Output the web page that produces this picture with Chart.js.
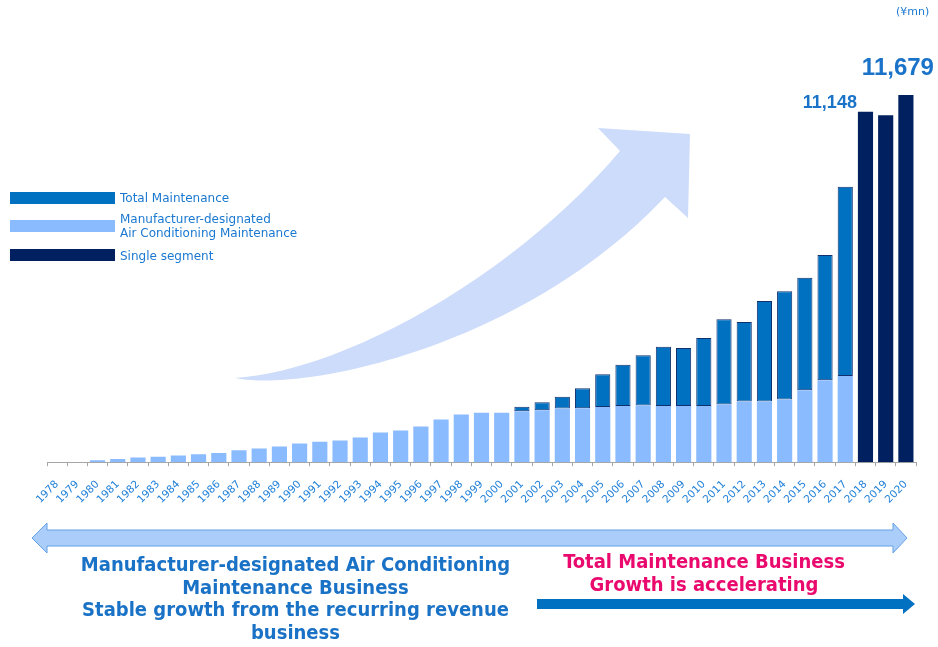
<!DOCTYPE html>
<html>
<head>
<meta charset="utf-8">
<script src="https://cdn.jsdelivr.net/npm/chart.js@4.4.0/dist/chart.umd.min.js"></script>
<style>
  html, body { margin: 0; padding: 0; background: #fff; }
  #wrap { position: relative; width: 938px; height: 647px; overflow: hidden; font-family: 'DejaVu Sans', sans-serif; }
  #deco, #chart { position: absolute; left: 0; top: 0; }
  .legend-box { position: absolute; left: 10px; width: 105px; height: 12px; }
  .legend-text { position: absolute; left: 120px; font-size: 12px; line-height: 14px; color: #1a78d0; white-space: nowrap; }
  .unit { position: absolute; left: 896px; top: 5px; font-size: 11px; line-height: 14px; color: #1a78d0; }
  .note { position: absolute; text-align: center; font-family: 'DejaVu Sans Condensed', 'DejaVu Sans', sans-serif; font-weight: bold; font-size: 20px; line-height: 22.5px; white-space: nowrap; }
</style>
</head>
<body>
<div id="wrap">
  <svg id="deco" width="938" height="647">
    <!-- big growth arrow behind the bars -->
    <path d="M235 378 C350 370 520 270 620 151 L598 128 L690 134 L688 218 L665 197 C520 350 300 392 235 378 Z" fill="#cddcfa"/>
    <!-- double-headed period arrow -->
    <polygon points="32,538 47,523 47,530 893,530 893,523 907,538 893,553 893,546 47,546 47,553" fill="#aacdfa" stroke="#64a0e6" stroke-width="1"/>
    <!-- acceleration arrow -->
    <polygon points="537,599 903,599 903,594 915,604 903,614 903,609 537,609" fill="#0070c0"/>
  </svg>
  <canvas id="chart" width="938" height="647"></canvas>

  <div class="unit">(¥mn)</div>

  <div class="legend-box" style="top:192px;background:#0070c0"></div>
  <div class="legend-text" style="top:191px">Total Maintenance</div>
  <div class="legend-box" style="top:220px;background:#8abbff"></div>
  <div class="legend-text" style="top:212px">Manufacturer-designated<br>Air Conditioning Maintenance</div>
  <div class="legend-box" style="top:249px;background:#002060"></div>
  <div class="legend-text" style="top:249px">Single segment</div>

  <div class="note" style="left:45px;width:501px;top:553px;color:#1a72c6">Manufacturer-designated Air Conditioning<br>Maintenance Business<br>Stable growth from the recurring revenue<br>business</div>
  <div class="note" style="left:544px;width:320px;top:550px;color:#ea0a6e">Total Maintenance Business<br>Growth is accelerating</div>
</div>

<script>
// ── DATA (¥mn) ────────────────────────────────────────────
const years = [
    '1978', '1979', '1980', '1981', '1982', '1983', '1984', '1985', '1986', '1987',
    '1988', '1989', '1990', '1991', '1992', '1993', '1994', '1995', '1996', '1997',
    '1998', '1999', '2000', '2001', '2002', '2003', '2004', '2005', '2006', '2007',
    '2008', '2009', '2010', '2011', '2012', '2013', '2014', '2015', '2016', '2017',
    '2018', '2019', '2020'
];

// Manufacturer-designated air conditioning maintenance (lower segment)
const acMaintenance = [
    0, 0, 64, 105, 150, 170, 213, 254, 296, 382,
    436, 500, 595, 649, 690, 785, 944, 1008, 1135, 1358,
    1517, 1571, 1571, 1620, 1654, 1705, 1717, 1759, 1790, 1800,
    1790, 1790, 1790, 1832, 1927, 1927, 1991, 2290, 2608, 2744,
    null, null, null
];

// Total maintenance on top of it (upper segment, 2001-2017)
const totalMaintenance = [
    null, null, null, null, null, null, null, null, null, null,
    null, null, null, null, null, null, null, null, null, null,
    null, null, null, 145, 254, 381, 636, 1039, 1314, 1603,
    1886, 1845, 2163, 2715, 2535, 3202, 3447, 3580, 3984, 6020,
    null, null, null
];

// Single segment (2018-2020)
const singleSegment = [
    null, null, null, null, null, null, null, null, null, null,
    null, null, null, null, null, null, null, null, null, null,
    null, null, null, null, null, null, null, null, null, null,
    null, null, null, null, null, null, null, null, null, null,
    11148, 11040, 11679
];

const labelledYears = ['2018', '2020'];

const fmt = v => String(v).replace(/\B(?=(\d{3})+(?!\d))/g, ',');

// value labels above the single segment bars
const valueLabels = {
    id: 'valueLabels',
    afterDatasetsDraw(chart) {
        const meta = chart.getDatasetMeta(2);
        const ctx = chart.ctx;
        ctx.save();
        ctx.fillStyle = '#1a73c8';
        ctx.textBaseline = 'alphabetic';

        const i1 = years.indexOf(labelledYears[0]);
        const b1 = meta.data[i1];
        ctx.font = 'bold 18px "Liberation Sans", Arial, sans-serif';
        ctx.textAlign = 'right';
        ctx.fillText(fmt(singleSegment[i1]), b1.x - b1.width / 2 - 1, b1.y - 4);

        const i2 = years.indexOf(labelledYears[1]);
        const b2 = meta.data[i2];
        ctx.font = 'bold 24px "Liberation Sans", Arial, sans-serif';
        ctx.textAlign = 'center';
        ctx.fillText(fmt(singleSegment[i2]), b2.x - 8, b2.y - 20);
        ctx.restore();
    }
};

const barCommon = { categoryPercentage: 1, barPercentage: 0.75 };

new Chart(document.getElementById('chart'), {
    type: 'bar',
    data: {
        labels: years,
        datasets: [
            {label: 'Manufacturer-designated Air Conditioning Maintenance', data: acMaintenance, backgroundColor: '#8abbff', ...barCommon},
            {label: 'Total Maintenance', data: totalMaintenance, backgroundColor: '#0070c0', borderColor: '#12306e', borderWidth: 1, borderSkipped: false, ...barCommon},
            {label: 'Single segment', data: singleSegment, backgroundColor: '#002060', ...barCommon}
        ]
    },
    options: {
        responsive: false,
        animation: false,
        layout: {padding: {left: 47, right: 22, top: 85, bottom: 129}},
        plugins: {
            legend: {display: false},
            tooltip: {enabled: false}
        },
        scales: {
            x: {
                stacked: true,
                border: {display: true, color: '#a6a6a6', width: 1},
                grid: {drawOnChartArea: false, drawTicks: true, tickLength: 4, color: '#a6a6a6'},
                ticks: {
                    color: '#2180d8',
                    font: {family: 'DejaVu Sans', size: 10.5},
                    minRotation: 45,
                    maxRotation: 45,
                    autoSkip: false,
                    padding: 12
                }
            },
            y: {stacked: true, display: false, min: 0, max: 12000}
        }
    },
    plugins: [valueLabels]
});
</script>
</body>
</html>
